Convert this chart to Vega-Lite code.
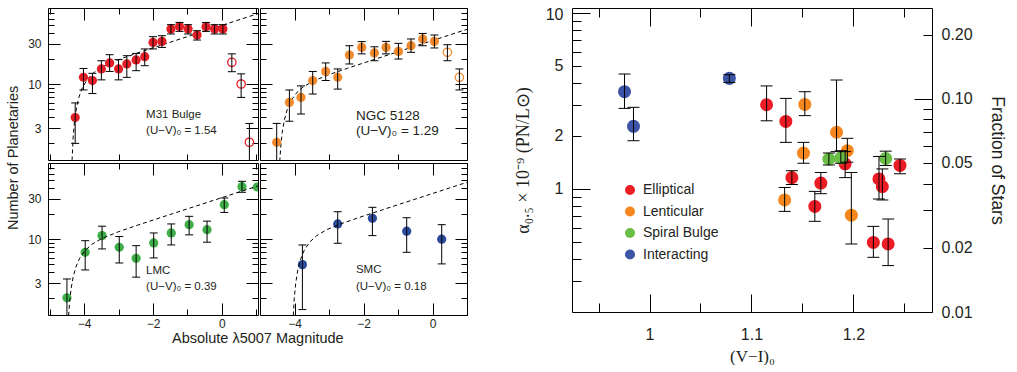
{
"$schema":"https://vega.github.io/schema/vega-lite/v6.json",
"padding":{"left":5,"top":6,"right":0,"bottom":0},
"config":{"view":{"stroke":"#000","strokeWidth":1},"font":"Liberation Sans","concat":{"spacing":0},"title":{"color":"#231f20","fontWeight":"normal","font":"Liberation Sans"}},
"resolve":{"legend":{"color":"independent"}},
"datasets":{
"pn":[
{"p":"M31","M":-4.26,"N":4.0,"lo":1.97,"hi":5.96,"open":false},
{"p":"M31","M":-4.02,"N":12.0,"lo":8.5,"hi":15.3,"open":false},
{"p":"M31","M":-3.76,"N":11.0,"lo":7.7,"hi":13.4,"open":false},
{"p":"M31","M":-3.50,"N":15.1,"lo":11.2,"hi":18.9,"open":false},
{"p":"M31","M":-3.26,"N":17.8,"lo":14.1,"hi":22.3,"open":false},
{"p":"M31","M":-3.00,"N":15.1,"lo":11.2,"hi":19.5,"open":false},
{"p":"M31","M":-2.76,"N":17.3,"lo":12.0,"hi":21.7,"open":false},
{"p":"M31","M":-2.49,"N":19.3,"lo":14.4,"hi":23.1,"open":false},
{"p":"M31","M":-2.24,"N":21.1,"lo":16.5,"hi":26.1,"open":false},
{"p":"M31","M":-2.00,"N":31.2,"lo":26.1,"hi":36.5,"open":false},
{"p":"M31","M":-1.74,"N":32.1,"lo":27.2,"hi":37.5,"open":false},
{"p":"M31","M":-1.48,"N":45.1,"lo":39.3,"hi":50.7,"open":false},
{"p":"M31","M":-1.23,"N":48.3,"lo":42.2,"hi":53.9,"open":false},
{"p":"M31","M":-0.98,"N":45.1,"lo":39.3,"hi":50.7,"open":false},
{"p":"M31","M":-0.72,"N":38.2,"lo":33.3,"hi":43.0,"open":false},
{"p":"M31","M":-0.46,"N":47.9,"lo":42.2,"hi":53.9,"open":false},
{"p":"M31","M":-0.21,"N":45.1,"lo":39.3,"hi":50.7,"open":false},
{"p":"M31","M":0.03,"N":45.1,"lo":39.3,"hi":50.7,"open":false},
{"p":"M31","M":0.29,"N":18.1,"lo":14.0,"hi":22.8,"open":true},
{"p":"M31","M":0.56,"N":10.0,"lo":6.93,"hi":13.2,"open":true},
{"p":"M31","M":0.80,"N":2.03,"lo":1.0,"hi":3.40,"open":true},
{"p":"N5128","M":-4.516,"N":2.03,"lo":1.0,"hi":3.40,"open":false},
{"p":"N5128","M":-4.148,"N":6.05,"lo":3.6,"hi":8.5,"open":false},
{"p":"N5128","M":-3.812,"N":6.93,"lo":4.4,"hi":9.5,"open":false},
{"p":"N5128","M":-3.472,"N":11.0,"lo":7.6,"hi":14.1,"open":false},
{"p":"N5128","M":-3.096,"N":14.1,"lo":11.0,"hi":17.8,"open":false},
{"p":"N5128","M":-2.748,"N":12.0,"lo":8.7,"hi":15.1,"open":false},
{"p":"N5128","M":-2.409,"N":22.1,"lo":17.3,"hi":28.5,"open":false},
{"p":"N5128","M":-2.052,"N":27.2,"lo":22.8,"hi":31.9,"open":false},
{"p":"N5128","M":-1.684,"N":23.4,"lo":18.9,"hi":27.7,"open":false},
{"p":"N5128","M":-1.348,"N":27.2,"lo":22.8,"hi":32.1,"open":false},
{"p":"N5128","M":-0.988,"N":24.4,"lo":19.8,"hi":30.4,"open":false},
{"p":"N5128","M":-0.623,"N":28.5,"lo":23.8,"hi":34.3,"open":false},
{"p":"N5128","M":-0.284,"N":34.3,"lo":28.5,"hi":39.9,"open":false},
{"p":"N5128","M":0.055,"N":32.1,"lo":26.8,"hi":38.2,"open":false},
{"p":"N5128","M":0.432,"N":23.8,"lo":18.9,"hi":29.3,"open":true},
{"p":"N5128","M":0.780,"N":12.0,"lo":8.5,"hi":15.1,"open":true},
{"p":"LMC","M":-4.50,"N":2.0,"lo":1.0,"hi":3.35,"open":false},
{"p":"LMC","M":-3.97,"N":6.95,"lo":4.29,"hi":9.55,"open":false},
{"p":"LMC","M":-3.48,"N":10.97,"lo":7.62,"hi":14.2,"open":false},
{"p":"LMC","M":-2.98,"N":7.98,"lo":5.19,"hi":10.7,"open":false},
{"p":"LMC","M":-2.49,"N":5.9,"lo":3.52,"hi":8.33,"open":false},
{"p":"LMC","M":-1.98,"N":8.97,"lo":5.96,"hi":11.8,"open":false},
{"p":"LMC","M":-1.47,"N":11.8,"lo":8.5,"hi":15.1,"open":false},
{"p":"LMC","M":-0.95,"N":14.8,"lo":11.2,"hi":18.6,"open":false},
{"p":"LMC","M":-0.43,"N":12.9,"lo":9.16,"hi":16.3,"open":false},
{"p":"LMC","M":0.07,"N":25.6,"lo":20.7,"hi":30.7,"open":false},
{"p":"LMC","M":0.585,"N":41.9,"lo":35.9,"hi":48.5,"open":false},
{"p":"LMC","M":1.03,"N":41.5,"lo":null,"hi":null,"open":false},
{"p":"SMC","M":-3.771,"N":4.96,"lo":1.45,"hi":8.5,"open":false},
{"p":"SMC","M":-2.748,"N":15.1,"lo":8.9,"hi":21.1,"open":false},
{"p":"SMC","M":-1.742,"N":17.6,"lo":10.97,"hi":23.8,"open":false},
{"p":"SMC","M":-0.748,"N":12.4,"lo":6.95,"hi":17.9,"open":false},
{"p":"SMC","M":0.267,"N":9.95,"lo":5.06,"hi":14.8,"open":false}
],
"cv":[
{"p":"M31","M":-4.38,"N":0.15},{"p":"M31","M":-4.37,"N":0.534},{"p":"M31","M":-4.35,"N":1.27},{"p":"M31","M":-4.32,"N":2.30},{"p":"M31","M":-4.28,"N":3.58},{"p":"M31","M":-4.22,"N":5.29},{"p":"M31","M":-4.15,"N":7.01},{"p":"M31","M":-4.05,"N":9.07},{"p":"M31","M":-3.9,"N":11.50},{"p":"M31","M":-3.7,"N":13.91},{"p":"M31","M":-3.4,"N":16.59},{"p":"M31","M":-3.0,"N":19.47},{"p":"M31","M":-2.5,"N":22.99},{"p":"M31","M":-2.0,"N":26.90},{"p":"M31","M":-1.0,"N":36.56},{"p":"M31","M":0,"N":49.7},{"p":"M31","M":1.05,"N":68.6},
{"p":"N5128","M":-4.455,"N":0.558},{"p":"N5128","M":-4.425,"N":1.24},{"p":"N5128","M":-4.395,"N":1.88},{"p":"N5128","M":-4.355,"N":2.66},{"p":"N5128","M":-4.295,"N":3.71},{"p":"N5128","M":-4.215,"N":4.91},{"p":"N5128","M":-4.105,"N":6.27},{"p":"N5128","M":-3.955,"N":7.72},{"p":"N5128","M":-3.755,"N":9.18},{"p":"N5128","M":-3.455,"N":10.84},{"p":"N5128","M":-2.955,"N":13.12},{"p":"N5128","M":-2.455,"N":15.42},{"p":"N5128","M":-1.955,"N":18.02},{"p":"N5128","M":-0.955,"N":24.50},{"p":"N5128","M":0.045,"N":33.3},{"p":"N5128","M":1.095,"N":45.97},
{"p":"LMC","M":-4.49,"N":0.388},{"p":"LMC","M":-4.45,"N":1.243},{"p":"LMC","M":-4.42,"N":1.83},{"p":"LMC","M":-4.38,"N":2.56},{"p":"LMC","M":-4.32,"N":3.53},{"p":"LMC","M":-4.24,"N":4.65},{"p":"LMC","M":-4.13,"N":5.91},{"p":"LMC","M":-3.98,"N":7.26},{"p":"LMC","M":-3.78,"N":8.62},{"p":"LMC","M":-3.5,"N":10.07},{"p":"LMC","M":-3.0,"N":12.21},{"p":"LMC","M":-2.5,"N":14.36},{"p":"LMC","M":-2.0,"N":16.78},{"p":"LMC","M":-1.0,"N":22.81},{"p":"LMC","M":0,"N":31.0},{"p":"LMC","M":1.05,"N":42.79},
{"p":"SMC","M":-4.055,"N":0.695},{"p":"SMC","M":-4.035,"N":1.244},{"p":"SMC","M":-4.005,"N":2.02},{"p":"SMC","M":-3.965,"N":2.98},{"p":"SMC","M":-3.905,"N":4.26},{"p":"SMC","M":-3.825,"N":5.72},{"p":"SMC","M":-3.715,"N":7.38},{"p":"SMC","M":-3.555,"N":9.23},{"p":"SMC","M":-3.355,"N":10.98},{"p":"SMC","M":-3.055,"N":12.96},{"p":"SMC","M":-2.655,"N":15.15},{"p":"SMC","M":-2.155,"N":17.86},{"p":"SMC","M":-1.455,"N":22.21},{"p":"SMC","M":-0.455,"N":30.19},{"p":"SMC","M":0.545,"N":41.04},{"p":"SMC","M":1.095,"N":48.59}
],
"ann":[
{"p":"M31","M":-2.20,"N":4.28,"t":"M31 Bulge"},{"p":"M31","M":-2.20,"N":2.74,"t":"(U−V)₀ = 1.54"},
{"p":"N5128","M":-2.22,"N":4.22,"t":"NGC 5128"},{"p":"N5128","M":-2.22,"N":2.79,"t":"(U−V)₀ = 1.29"},
{"p":"LMC","M":-2.20,"N":4.21,"t":"LMC"},{"p":"LMC","M":-2.20,"N":2.67,"t":"(U−V)₀ = 0.39"},
{"p":"SMC","M":-2.22,"N":4.28,"t":"SMC"},{"p":"SMC","M":-2.22,"N":2.67,"t":"(U−V)₀ = 0.18"}
],
"gal":[
{"type":"Interacting","vi":0.9755,"a":3.57,"lo":2.87,"hi":4.5},
{"type":"Interacting","vi":0.9843,"a":2.27,"lo":1.88,"hi":2.91},
{"type":"Interacting","vi":1.0783,"a":4.25,"lo":4.03,"hi":4.46},
{"type":"Elliptical","vi":1.1148,"a":3.01,"lo":2.44,"hi":3.85},
{"type":"Elliptical","vi":1.1337,"a":2.42,"lo":1.84,"hi":3.27},
{"type":"Elliptical","vi":1.1396,"a":1.16,"lo":1.06,"hi":1.27},
{"type":"Elliptical","vi":1.168,"a":1.08,"lo":0.94,"hi":1.24},
{"type":"Elliptical","vi":1.1918,"a":1.39,"lo":1.16,"hi":1.63},
{"type":"Elliptical","vi":1.225,"a":1.14,"lo":0.877,"hi":1.53},
{"type":"Elliptical","vi":1.2283,"a":1.03,"lo":0.866,"hi":1.30},
{"type":"Elliptical","vi":1.2456,"a":1.36,"lo":1.22,"hi":1.48},
{"type":"Elliptical","vi":1.1621,"a":0.796,"lo":0.655,"hi":0.969},
{"type":"Elliptical","vi":1.2195,"a":0.497,"lo":0.409,"hi":0.613},
{"type":"Elliptical","vi":1.234,"a":0.487,"lo":0.367,"hi":0.675},
{"type":"Lenticular","vi":1.1523,"a":3.02,"lo":2.61,"hi":3.57},
{"type":"Lenticular","vi":1.151,"a":1.60,"lo":1.40,"hi":1.84},
{"type":"Lenticular","vi":1.1834,"a":2.10,"lo":1.63,"hi":4.16},
{"type":"Lenticular","vi":1.194,"a":1.65,"lo":1.42,"hi":1.94},
{"type":"Lenticular","vi":1.1979,"a":0.71,"lo":0.487,"hi":1.24},
{"type":"Lenticular","vi":1.1325,"a":0.866,"lo":0.746,"hi":1.02},
{"type":"Spiral Bulge","vi":1.1759,"a":1.48,"lo":1.37,"hi":1.60},
{"type":"Spiral Bulge","vi":1.1876,"a":1.50,"lo":1.40,"hi":1.65},
{"type":"Spiral Bulge","vi":1.2316,"a":1.49,"lo":1.36,"hi":1.64}
]
},
"hconcat":[
{"vconcat":[
 {"vconcat":[
  {"hconcat":[
   {"width":210,"height":152,
    "layer":[
     {"layer":[
      {"data":{"name":"cv"},"transform":[{"filter":"datum.p == 'M31'"}],"mark":{"type":"line","color":"#000","strokeWidth":1,"strokeDash":[4,3],"clip":true},
       "encoding":{"x":{"field":"M","type":"quantitative","scale":{"domain":[-5.05,1.05],"nice":false,"zero":false},"axis":{"orient":"bottom","title":null,"domain":false,"grid":false,"values":[-5,-4,-3,-2,-1,0,1],"tickColor":"#000","tickWidth":1,"tickSize":{"condition":{"test":"indexof([-4,-2,0], datum.value) >= 0","value":-12},"value":-6},"labels":false}},
                   "y":{"field":"N","type":"quantitative","scale":{"type":"log","domain":[1.25,80],"nice":false},"axis":{"orient":"left","title":null,"domain":false,"grid":false,"values":[2,3,4,5,6,7,8,9,10,20,30,40,50,60,70],"tickColor":"#000","tickWidth":1,"tickSize":{"condition":{"test":"indexof([3,10,30], datum.value) >= 0","value":-12},"value":-6},"labelExpr":"indexof([3,10,30], datum.value) >= 0 ? format(datum.value, 'd') : ''","labelFont":"Liberation Sans","labelFontSize":12,"labelColor":"#231f20","labelPadding":19,"labelOverlap":false}}}},
      {"data":{"name":"pn"},"transform":[{"filter":"datum.p == 'M31' && !datum.open"}],"mark":{"type":"circle","size":85,"color":"#e41e26","opacity":1,"clip":true},
       "encoding":{"x":{"field":"M","type":"quantitative"},"y":{"field":"N","type":"quantitative","scale":{"type":"log"}}}},
      {"data":{"name":"pn"},"transform":[{"filter":"datum.p == 'M31' && datum.open"}],"mark":{"type":"point","shape":"circle","filled":false,"size":70,"strokeWidth":1.3,"color":"#e41e26","opacity":1,"clip":true},
       "encoding":{"x":{"field":"M","type":"quantitative"},"y":{"field":"N","type":"quantitative","scale":{"type":"log"}}}},
      {"data":{"name":"pn"},"transform":[{"filter":"datum.p == 'M31'"}],"mark":{"type":"rule","color":"#000","strokeWidth":1,"clip":true},
       "encoding":{"x":{"field":"M","type":"quantitative"},"y":{"field":"lo","type":"quantitative","scale":{"type":"log"}},"y2":{"field":"hi"}}},
      {"data":{"name":"pn"},"transform":[{"filter":"datum.p == 'M31'"}],"mark":{"type":"tick","orient":"horizontal","size":8,"thickness":1,"color":"#000","opacity":1,"clip":true},
       "encoding":{"x":{"field":"M","type":"quantitative"},"y":{"field":"lo","type":"quantitative","scale":{"type":"log"}}}},
      {"data":{"name":"pn"},"transform":[{"filter":"datum.p == 'M31'"}],"mark":{"type":"tick","orient":"horizontal","size":8,"thickness":1,"color":"#000","opacity":1,"clip":true},
       "encoding":{"x":{"field":"M","type":"quantitative"},"y":{"field":"hi","type":"quantitative","scale":{"type":"log"}}}},
      {"data":{"name":"ann"},"transform":[{"filter":"datum.p == 'M31'"}],"mark":{"type":"text","align":"left","baseline":"middle","fontSize":11.5,"color":"#231f20"},
       "encoding":{"x":{"field":"M","type":"quantitative"},"y":{"field":"N","type":"quantitative","scale":{"type":"log"}},"text":{"field":"t"}}}
     ]},
     {"data":{"name":"pn"},"transform":[{"filter":"datum.M > 100"}],"mark":{"type":"point","opacity":0},
      "encoding":{"x":{"field":"M","type":"quantitative","scale":{"domain":[-5.05,1.05],"nice":false,"zero":false},"axis":{"orient":"top","title":null,"domain":false,"grid":false,"values":[-5,-4,-3,-2,-1,0,1],"tickColor":"#000","tickWidth":1,"tickSize":{"condition":{"test":"indexof([-4,-2,0], datum.value) >= 0","value":-12},"value":-6},"labels":false}},
                  "y":{"field":"N","type":"quantitative","scale":{"type":"log","domain":[1.25,80],"nice":false},"axis":{"orient":"right","title":null,"domain":false,"grid":false,"values":[2,3,4,5,6,7,8,9,10,20,30,40,50,60,70],"tickColor":"#000","tickWidth":1,"tickSize":{"condition":{"test":"indexof([3,10,30], datum.value) >= 0","value":-12},"value":-6},"labels":false}}}}
    ],
    "resolve":{"axis":{"x":"independent","y":"independent"}}
   },
   {"width":207,"height":152,
    "layer":[
     {"layer":[
      {"data":{"name":"cv"},"transform":[{"filter":"datum.p == 'N5128'"}],"mark":{"type":"line","color":"#000","strokeWidth":1,"strokeDash":[4,3],"clip":true},
       "encoding":{"x":{"field":"M","type":"quantitative","scale":{"domain":[-5.0,1.0],"nice":false,"zero":false},"axis":{"orient":"bottom","title":null,"domain":false,"grid":false,"values":[-5,-4,-3,-2,-1,0,1],"tickColor":"#000","tickWidth":1,"tickSize":{"condition":{"test":"indexof([-4,-2,0], datum.value) >= 0","value":-12},"value":-6},"labels":false}},
                   "y":{"field":"N","type":"quantitative","scale":{"type":"log","domain":[1.25,80],"nice":false},"axis":{"orient":"left","title":null,"domain":false,"grid":false,"values":[2,3,4,5,6,7,8,9,10,20,30,40,50,60,70],"tickColor":"#000","tickWidth":1,"tickSize":{"condition":{"test":"indexof([3,10,30], datum.value) >= 0","value":-12},"value":-6},"labels":false}}}},
      {"data":{"name":"pn"},"transform":[{"filter":"datum.p == 'N5128' && !datum.open"}],"mark":{"type":"circle","size":85,"color":"#f1892d","opacity":1,"clip":true},
       "encoding":{"x":{"field":"M","type":"quantitative"},"y":{"field":"N","type":"quantitative","scale":{"type":"log"}}}},
      {"data":{"name":"pn"},"transform":[{"filter":"datum.p == 'N5128' && datum.open"}],"mark":{"type":"point","shape":"circle","filled":false,"size":70,"strokeWidth":1.3,"color":"#f1892d","opacity":1,"clip":true},
       "encoding":{"x":{"field":"M","type":"quantitative"},"y":{"field":"N","type":"quantitative","scale":{"type":"log"}}}},
      {"data":{"name":"pn"},"transform":[{"filter":"datum.p == 'N5128'"}],"mark":{"type":"rule","color":"#000","strokeWidth":1,"clip":true},
       "encoding":{"x":{"field":"M","type":"quantitative"},"y":{"field":"lo","type":"quantitative","scale":{"type":"log"}},"y2":{"field":"hi"}}},
      {"data":{"name":"pn"},"transform":[{"filter":"datum.p == 'N5128'"}],"mark":{"type":"tick","orient":"horizontal","size":8,"thickness":1,"color":"#000","opacity":1,"clip":true},
       "encoding":{"x":{"field":"M","type":"quantitative"},"y":{"field":"lo","type":"quantitative","scale":{"type":"log"}}}},
      {"data":{"name":"pn"},"transform":[{"filter":"datum.p == 'N5128'"}],"mark":{"type":"tick","orient":"horizontal","size":8,"thickness":1,"color":"#000","opacity":1,"clip":true},
       "encoding":{"x":{"field":"M","type":"quantitative"},"y":{"field":"hi","type":"quantitative","scale":{"type":"log"}}}},
      {"data":{"name":"ann"},"transform":[{"filter":"datum.p == 'N5128'"}],"mark":{"type":"text","align":"left","baseline":"middle","fontSize":13.5,"color":"#231f20"},
       "encoding":{"x":{"field":"M","type":"quantitative"},"y":{"field":"N","type":"quantitative","scale":{"type":"log"}},"text":{"field":"t"}}}
     ]},
     {"data":{"name":"pn"},"transform":[{"filter":"datum.M > 100"}],"mark":{"type":"point","opacity":0},
      "encoding":{"x":{"field":"M","type":"quantitative","scale":{"domain":[-5.0,1.0],"nice":false,"zero":false},"axis":{"orient":"top","title":null,"domain":false,"grid":false,"values":[-5,-4,-3,-2,-1,0,1],"tickColor":"#000","tickWidth":1,"tickSize":{"condition":{"test":"indexof([-4,-2,0], datum.value) >= 0","value":-12},"value":-6},"labels":false}},
                  "y":{"field":"N","type":"quantitative","scale":{"type":"log","domain":[1.25,80],"nice":false},"axis":{"orient":"right","title":null,"domain":false,"grid":false,"values":[2,3,4,5,6,7,8,9,10,20,30,40,50,60,70],"tickColor":"#000","tickWidth":1,"tickSize":{"condition":{"test":"indexof([3,10,30], datum.value) >= 0","value":-12},"value":-6},"labels":false}}}}
    ],
    "resolve":{"axis":{"x":"independent","y":"independent"}}
   }
  ]},
  {"hconcat":[
   {"width":210,"height":152,
    "layer":[
     {"layer":[
      {"data":{"name":"pn"},"transform":[{"filter":"datum.p == 'LMC'"}],"mark":{"type":"circle","size":85,"color":"#3fae49","opacity":1,"clip":true},
       "encoding":{"x":{"field":"M","type":"quantitative","scale":{"domain":[-5.05,1.05],"nice":false,"zero":false},"axis":{"orient":"bottom","title":null,"domain":false,"grid":false,"values":[-4,-2,0],"ticks":false,"format":"d","labelFont":"Liberation Sans","labelFontSize":12,"labelColor":"#231f20","labelPadding":3,"labelFlush":false,"labelOverlap":false}},
                   "y":{"field":"N","type":"quantitative","scale":{"type":"log","domain":[1.25,80],"nice":false},"axis":{"orient":"left","title":null,"domain":false,"grid":false,"values":[2,3,4,5,6,7,8,9,10,20,30,40,50,60,70],"tickColor":"#000","tickWidth":1,"tickSize":{"condition":{"test":"indexof([3,10,30], datum.value) >= 0","value":-12},"value":-6},"labelExpr":"indexof([3,10,30], datum.value) >= 0 ? format(datum.value, 'd') : ''","labelFont":"Liberation Sans","labelFontSize":12,"labelColor":"#231f20","labelPadding":19,"labelOverlap":false}}}},
      {"data":{"name":"cv"},"transform":[{"filter":"datum.p == 'LMC'"}],"mark":{"type":"line","color":"#000","strokeWidth":1,"strokeDash":[4,3],"clip":true},
       "encoding":{"x":{"field":"M","type":"quantitative"},"y":{"field":"N","type":"quantitative","scale":{"type":"log"}}}},
      {"data":{"name":"pn"},"transform":[{"filter":"datum.p == 'LMC' && datum.lo != null"}],"mark":{"type":"rule","color":"#000","strokeWidth":1,"clip":true},
       "encoding":{"x":{"field":"M","type":"quantitative"},"y":{"field":"lo","type":"quantitative","scale":{"type":"log"}},"y2":{"field":"hi"}}},
      {"data":{"name":"pn"},"transform":[{"filter":"datum.p == 'LMC' && datum.lo != null"}],"mark":{"type":"tick","orient":"horizontal","size":8,"thickness":1,"color":"#000","opacity":1,"clip":true},
       "encoding":{"x":{"field":"M","type":"quantitative"},"y":{"field":"lo","type":"quantitative","scale":{"type":"log"}}}},
      {"data":{"name":"pn"},"transform":[{"filter":"datum.p == 'LMC' && datum.lo != null"}],"mark":{"type":"tick","orient":"horizontal","size":8,"thickness":1,"color":"#000","opacity":1,"clip":true},
       "encoding":{"x":{"field":"M","type":"quantitative"},"y":{"field":"hi","type":"quantitative","scale":{"type":"log"}}}},
      {"data":{"name":"ann"},"transform":[{"filter":"datum.p == 'LMC'"}],"mark":{"type":"text","align":"left","baseline":"middle","fontSize":11.5,"color":"#231f20"},
       "encoding":{"x":{"field":"M","type":"quantitative"},"y":{"field":"N","type":"quantitative","scale":{"type":"log"}},"text":{"field":"t"}}}
     ]},
     {"data":{"name":"pn"},"transform":[{"filter":"datum.M > 100"}],"mark":{"type":"point","opacity":0},
      "encoding":{"x":{"field":"M","type":"quantitative","scale":{"domain":[-5.05,1.05],"nice":false,"zero":false},"axis":{"orient":"top","title":null,"domain":false,"grid":false,"values":[-5,-4,-3,-2,-1,0,1],"tickColor":"#000","tickWidth":1,"tickSize":{"condition":{"test":"indexof([-4,-2,0], datum.value) >= 0","value":-12},"value":-6},"labels":false}},
                  "y":{"field":"N","type":"quantitative","scale":{"type":"log","domain":[1.25,80],"nice":false},"axis":{"orient":"right","title":null,"domain":false,"grid":false,"values":[2,3,4,5,6,7,8,9,10,20,30,40,50,60,70],"tickColor":"#000","tickWidth":1,"tickSize":{"condition":{"test":"indexof([3,10,30], datum.value) >= 0","value":-12},"value":-6},"labels":false}}}},
     {"data":{"name":"pn"},"transform":[{"filter":"datum.M > 100"}],"mark":{"type":"point","opacity":0},
      "encoding":{"x":{"field":"M","type":"quantitative","scale":{"domain":[-5.05,1.05],"nice":false,"zero":false},"axis":{"orient":"bottom","title":null,"domain":false,"grid":false,"values":[-5,-4,-3,-2,-1,0,1],"tickColor":"#000","tickWidth":1,"tickSize":{"condition":{"test":"indexof([-4,-2,0], datum.value) >= 0","value":-12},"value":-6},"labels":false}}}}
    ],
    "resolve":{"axis":{"x":"independent","y":"independent"}}
   },
   {"width":207,"height":152,
    "layer":[
     {"layer":[
      {"data":{"name":"pn"},"transform":[{"filter":"datum.p == 'SMC'"}],"mark":{"type":"circle","size":85,"color":"#2d4b9b","opacity":1,"clip":true},
       "encoding":{"x":{"field":"M","type":"quantitative","scale":{"domain":[-5.0,1.0],"nice":false,"zero":false},"axis":{"orient":"bottom","title":null,"domain":false,"grid":false,"values":[-4,-2,0],"ticks":false,"format":"d","labelFont":"Liberation Sans","labelFontSize":12,"labelColor":"#231f20","labelPadding":3,"labelFlush":false,"labelOverlap":false}},
                   "y":{"field":"N","type":"quantitative","scale":{"type":"log","domain":[1.25,80],"nice":false},"axis":{"orient":"left","title":null,"domain":false,"grid":false,"values":[2,3,4,5,6,7,8,9,10,20,30,40,50,60,70],"tickColor":"#000","tickWidth":1,"tickSize":{"condition":{"test":"indexof([3,10,30], datum.value) >= 0","value":-12},"value":-6},"labels":false}}}},
      {"data":{"name":"cv"},"transform":[{"filter":"datum.p == 'SMC'"}],"mark":{"type":"line","color":"#000","strokeWidth":1,"strokeDash":[4,3],"clip":true},
       "encoding":{"x":{"field":"M","type":"quantitative"},"y":{"field":"N","type":"quantitative","scale":{"type":"log"}}}},
      {"data":{"name":"pn"},"transform":[{"filter":"datum.p == 'SMC'"}],"mark":{"type":"rule","color":"#000","strokeWidth":1,"clip":true},
       "encoding":{"x":{"field":"M","type":"quantitative"},"y":{"field":"lo","type":"quantitative","scale":{"type":"log"}},"y2":{"field":"hi"}}},
      {"data":{"name":"pn"},"transform":[{"filter":"datum.p == 'SMC'"}],"mark":{"type":"tick","orient":"horizontal","size":8,"thickness":1,"color":"#000","opacity":1,"clip":true},
       "encoding":{"x":{"field":"M","type":"quantitative"},"y":{"field":"lo","type":"quantitative","scale":{"type":"log"}}}},
      {"data":{"name":"pn"},"transform":[{"filter":"datum.p == 'SMC'"}],"mark":{"type":"tick","orient":"horizontal","size":8,"thickness":1,"color":"#000","opacity":1,"clip":true},
       "encoding":{"x":{"field":"M","type":"quantitative"},"y":{"field":"hi","type":"quantitative","scale":{"type":"log"}}}},
      {"data":{"name":"ann"},"transform":[{"filter":"datum.p == 'SMC'"}],"mark":{"type":"text","align":"left","baseline":"middle","fontSize":11.5,"color":"#231f20"},
       "encoding":{"x":{"field":"M","type":"quantitative"},"y":{"field":"N","type":"quantitative","scale":{"type":"log"}},"text":{"field":"t"}}}
     ]},
     {"data":{"name":"pn"},"transform":[{"filter":"datum.M > 100"}],"mark":{"type":"point","opacity":0},
      "encoding":{"x":{"field":"M","type":"quantitative","scale":{"domain":[-5.0,1.0],"nice":false,"zero":false},"axis":{"orient":"top","title":null,"domain":false,"grid":false,"values":[-5,-4,-3,-2,-1,0,1],"tickColor":"#000","tickWidth":1,"tickSize":{"condition":{"test":"indexof([-4,-2,0], datum.value) >= 0","value":-12},"value":-6},"labels":false}},
                  "y":{"field":"N","type":"quantitative","scale":{"type":"log","domain":[1.25,80],"nice":false},"axis":{"orient":"right","title":null,"domain":false,"grid":false,"values":[2,3,4,5,6,7,8,9,10,20,30,40,50,60,70],"tickColor":"#000","tickWidth":1,"tickSize":{"condition":{"test":"indexof([3,10,30], datum.value) >= 0","value":-12},"value":-6},"labels":false}}}},
     {"data":{"name":"pn"},"transform":[{"filter":"datum.M > 100"}],"mark":{"type":"point","opacity":0},
      "encoding":{"x":{"field":"M","type":"quantitative","scale":{"domain":[-5.0,1.0],"nice":false,"zero":false},"axis":{"orient":"bottom","title":null,"domain":false,"grid":false,"values":[-5,-4,-3,-2,-1,0,1],"tickColor":"#000","tickWidth":1,"tickSize":{"condition":{"test":"indexof([-4,-2,0], datum.value) >= 0","value":-12},"value":-6},"labels":false}}}}
    ],
    "resolve":{"axis":{"x":"independent","y":"independent"}}
   }
  ]}
 ],
 "title":{"text":"Number of Planetaries","orient":"left","anchor":"middle","fontSize":14.5,"offset":6,"dx":10}
 }
],
"title":{"text":"Absolute λ5007 Magnitude","orient":"bottom","anchor":"middle","fontSize":14.5,"offset":2,"dx":21}
},
{"vconcat":[
{"width":360,"height":304,
 "layer":[
  {"layer":[
   {"data":{"name":"gal"},"mark":{"type":"circle","size":170,"opacity":1},
    "encoding":{"x":{"field":"vi","type":"quantitative","scale":{"domain":[0.924,1.277],"nice":false,"zero":false},"axis":{"orient":"bottom","title":"(V−I)₀","titleFont":"Liberation Serif","titleFontSize":17,"titleFontWeight":"normal","titleColor":"#231f20","titlePadding":-3,"domain":false,"grid":false,"values":[0.95,1,1.05,1.1,1.15,1.2,1.25],"tickColor":"#000","tickWidth":1,"tickSize":{"condition":{"test":"indexof([1,1.1,1.2], datum.value) >= 0","value":-18},"value":-9},"labelExpr":"indexof([1,1.1,1.2], datum.value) >= 0 ? '' + datum.value : ''","labelFont":"Liberation Sans","labelFontSize":16,"labelColor":"#231f20","labelPadding":32,"labelFlush":false,"labelOverlap":false}},
                "y":{"field":"a","type":"quantitative","scale":{"type":"log","domain":[0.2,10.67],"nice":false},"axis":{"orient":"left","title":"α₀.₅  ×  10⁻⁹  (PN/L⊙)","titleFont":"Liberation Serif","titleFontSize":18,"titleFontWeight":"normal","titleColor":"#231f20","titlePadding":13,"domain":false,"grid":false,"values":[0.3,0.4,0.5,0.6,0.7,0.8,0.9,1,2,3,4,5,6,7,8,9,10],"tickColor":"#000","tickWidth":1,"tickSize":{"condition":{"test":"datum.value == 1 || datum.value == 10","value":-18},"value":-9},"labelExpr":"indexof([1,2,5,10], datum.value) >= 0 ? '' + datum.value : ''","labelFont":"Liberation Sans","labelFontSize":16,"labelColor":"#231f20","labelPadding":{"condition":{"test":"datum.value == 1 || datum.value == 10","value":27},"value":18},"labelOffset":{"condition":{"test":"datum.value == 10","value":2},"value":0},"labelOverlap":false}},
                "color":{"field":"type","type":"nominal","scale":{"domain":["Elliptical","Lenticular","Spiral Bulge","Interacting"],"range":["#ec1c24","#f6871f","#6abd45","#3b54a5"]},
                         "legend":{"orient":"none","legendX":51,"legendY":175,"title":null,"symbolType":"circle","symbolSize":100,"symbolOpacity":1,"symbolStrokeWidth":0,"labelFont":"Liberation Sans","labelFontSize":14,"labelColor":"#231f20","rowPadding":7.5,"labelOffset":6}}}},
   {"data":{"name":"gal"},"mark":{"type":"rule","color":"#000","strokeWidth":1},
    "encoding":{"x":{"field":"vi","type":"quantitative"},"y":{"field":"lo","type":"quantitative","scale":{"type":"log"}},"y2":{"field":"hi"}}},
   {"data":{"name":"gal"},"mark":{"type":"tick","orient":"horizontal","size":12,"thickness":1,"color":"#000","opacity":1},
    "encoding":{"x":{"field":"vi","type":"quantitative"},"y":{"field":"lo","type":"quantitative","scale":{"type":"log"}}}},
   {"data":{"name":"gal"},"mark":{"type":"tick","orient":"horizontal","size":12,"thickness":1,"color":"#000","opacity":1},
    "encoding":{"x":{"field":"vi","type":"quantitative"},"y":{"field":"hi","type":"quantitative","scale":{"type":"log"}}}}
  ]},
  {"data":{"name":"gal"},"transform":[{"filter":"datum.a < 0"}],"mark":{"type":"point","opacity":0},
   "encoding":{"x":{"field":"vi","type":"quantitative","scale":{"domain":[0.924,1.277],"nice":false,"zero":false},"axis":{"orient":"top","title":null,"domain":false,"grid":false,"values":[0.95,1,1.05,1.1,1.15,1.2,1.25],"tickColor":"#000","tickWidth":1,"tickSize":{"condition":{"test":"indexof([1,1.1,1.2], datum.value) >= 0","value":-18},"value":-9},"labels":false}},
               "y":{"field":"a","type":"quantitative","scale":{"type":"log","domain":[0.01,0.2665],"nice":false},"axis":{"orient":"right","title":"Fraction of Stars","titleFont":"Liberation Sans","titleFontSize":17.5,"titleFontWeight":"normal","titleColor":"#231f20","titlePadding":15,"domain":false,"grid":false,"values":[0.01,0.02,0.03,0.04,0.05,0.06,0.07,0.08,0.09,0.1,0.2],"tickColor":"#000","tickWidth":1,"tickSize":{"condition":{"test":"datum.value == 0.1","value":-18},"value":-9},"labelExpr":"indexof([0.01,0.02,0.05,0.1,0.2], datum.value) >= 0 ? format(datum.value, '.2f') : ''","labelFont":"Liberation Sans","labelFontSize":16,"labelColor":"#231f20","labelPadding":{"condition":{"test":"datum.value == 0.1","value":27},"value":18},"labelOverlap":false}}}}
 ],
 "resolve":{"scale":{"y":"independent"},"axis":{"x":"independent","y":"independent"}}
}
]}
],
"spacing":45
}
